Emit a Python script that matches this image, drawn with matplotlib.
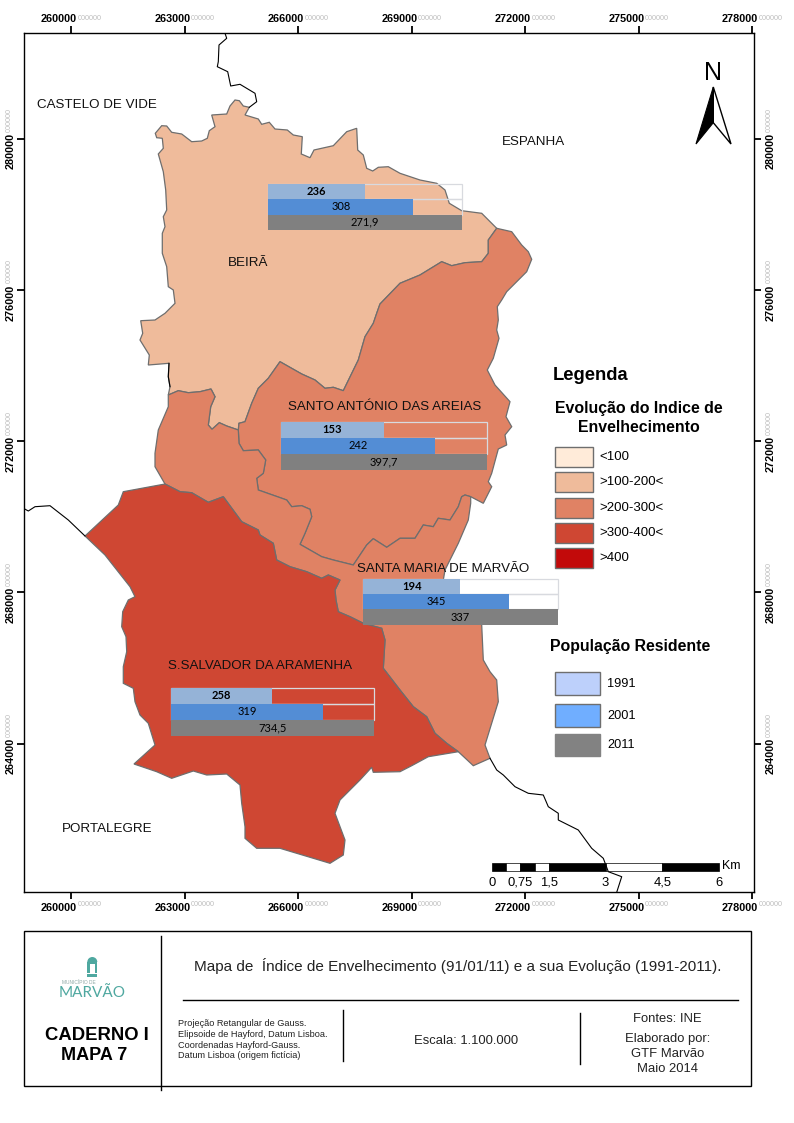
import matplotlib
matplotlib.use('Agg')
import matplotlib.pyplot as plt
import matplotlib.transforms as mtrans
from matplotlib.patches import Polygon, Rectangle, Wedge

plt.rcParams['font.family'] = ['Liberation Sans', 'DejaVu Sans']

# tick values of the grid (metres, Hayford-Gauss)
x_ticks = [260000, 263000, 266000, 269000, 272000, 275000, 278000]
y_ticks = [264000, 268000, 272000, 276000, 280000]

# parish outlines as (px, py) and split at shared edges
beira_north = [(230, 106), (235, 100), (239.3, 100.7), (243.3, 106), (249.3, 107.3), (245, 115),
               (258.3, 119), (261.7, 124.3), (269.3, 122.3), (275, 129), (287.3, 130), (293.3, 135),
               (302.3, 136.7), (301.3, 154), (310, 157.7), (314, 150), (333.3, 145.7), (346.7, 131.7),
               (356.7, 128.3), (357.7, 150), (363.3, 155), (366.7, 168.3), (372.7, 171), (378.3, 167.3),
               (388.3, 166.7), (400, 173.3), (420, 180), (436.7, 183.3), (445, 190), (449.3, 203.3),
               (461.7, 210.7), (481.7, 213.3), (496.7, 228.3)]
beira_sa = [(496.7, 228.3), (488.3, 240), (488.3, 253.3), (481.7, 261.7), (465, 262.7), (451.7, 265.7),
            (441.7, 261.7), (420, 275), (400, 283.3), (380, 304), (376.7, 313.3), (373.3, 323.3),
            (365, 336.7), (358.3, 360), (343.3, 390.7), (333.3, 387.3), (325, 388.3), (315, 380),
            (301.7, 374), (280, 361.7), (268.3, 378.3), (258.3, 388.3), (251.7, 403.3), (245, 421.7),
            (239, 423.3), (238.3, 430)]
beira_sm = [(238.3, 430), (226.7, 426), (219.3, 422.7), (212, 429.3), (208.3, 425), (210.7, 406.7),
            (215, 396.7), (211, 389), (200, 391.7), (188.3, 392.7), (178.3, 390.7), (168.3, 395)]
beira_west = [(168.3, 395), (170, 386.7), (168.3, 376.7), (169, 363.3), (148.3, 365), (149.3, 355),
              (140, 340), (142.7, 333.3), (140.7, 320.7), (155, 320), (165, 313.3), (175, 303.3),
              (173.3, 290), (168.3, 286.7), (166.7, 266.7), (162.3, 253.3), (162.3, 233.3), (165, 226.7),
              (163.3, 216.7), (166.7, 210), (165.7, 190), (163.3, 171.7), (158.3, 154), (163.3, 148.3),
              (162.3, 138.3), (156.7, 137.7), (155.3, 133.3), (161.7, 125.7), (166.7, 126), (171.7, 132.3),
              (181.7, 134), (191.7, 141.7), (201.7, 141), (207.3, 138.3), (209.3, 130.7), (215, 126.7),
              (211.7, 115), (226.7, 114), (230, 106)]
sa_east = [(496.7, 228.3), (511.7, 231.7), (521.7, 245), (528.3, 251.7), (531.7, 259.3), (526.7, 271.7),
           (506.7, 291.7), (501.7, 300), (497.3, 306.7), (498.3, 320), (496.7, 330), (499, 338.3),
           (493.3, 358.3), (487.3, 370), (495, 385), (510, 401.7), (506, 416.7), (511.7, 426.7),
           (505, 435), (506.7, 445), (498.3, 449), (491.7, 473.3), (488.3, 481.7), (491.7, 486.7),
           (483.3, 503.3), (470.7, 496.7)]
sa_sm = [(470.7, 496.7), (465, 495), (461.7, 496.7), (458.3, 506.7), (450, 520), (438.3, 518.3),
         (433.3, 526.7), (423.3, 525), (415, 538.3), (400, 538.3), (386.7, 547.3), (373.3, 538.7),
         (366.7, 545), (353.3, 565), (333.3, 560), (321.7, 556.7), (300, 544.3), (305, 533.3),
         (311.7, 516.7), (310, 509.3), (301.7, 505.7), (291.7, 506.7), (286.7, 500), (258.3, 490),
         (256.7, 478.3), (263.3, 473.3), (265.7, 460), (258.3, 450), (243.3, 450.7), (239, 443.3),
         (238.3, 430)]
sm_east = [(470.7, 496.7), (470.7, 503.3), (468.3, 520), (458.3, 543.3), (445, 570), (443.3, 580),
           (481.7, 625), (483.3, 660), (490, 671.7), (496.7, 680), (498.3, 701.7), (485, 745),
           (490, 758.3), (473.3, 765.7), (458.3, 751.7)]
sal_sm = [(458.3, 751.7), (446.7, 743.3), (435, 733.3), (426.7, 716.7), (413.3, 706.7), (400, 690),
          (383.3, 668.3), (385, 640), (381.7, 628.3), (363.3, 623.3), (350, 616.7), (338.3, 611.7),
          (336, 600), (335, 590), (340, 580), (328.3, 575), (321.7, 578.3), (306.7, 571.7), (290, 566.7),
          (276.7, 560), (273.3, 543.3), (260, 535), (258.3, 530), (241.7, 521.7), (223.3, 496.7),
          (208.3, 502.3), (191.7, 492.7), (180, 491.7), (165, 484)]
sm_west = [(165, 484), (155, 466.7), (155, 453.3), (158.3, 430), (168.3, 406.7), (168.3, 395)]
sal_outer = [(165, 484), (123.3, 491.7), (118.3, 505), (85, 536), (105, 555), (130, 586.7), (135, 596.7),
             (128.3, 600), (122.7, 611.7), (121.7, 626.7), (126, 636.7), (126.7, 651.7), (123.3, 666.7),
             (123.3, 683.3), (133.3, 688.3), (135, 701.7), (140, 715), (148.3, 723.3), (155, 745),
             (134, 764), (156.7, 771.7), (171.7, 778.3), (193.3, 771), (206.7, 775), (226.7, 774),
             (240, 785), (241.7, 803.3), (245, 826.7), (245, 838.3), (256.7, 848.3), (280, 848.3),
             (296.7, 853.3), (330, 863.3), (343.3, 855), (345, 840), (335, 813.3), (340, 800),
             (360, 780), (371.7, 767.3), (373.3, 772.3), (400, 771.7), (411.7, 765.7), (428.3, 756.7),
             (458.3, 751.7)]

# national border pieces
border_north = [(225, 33.3), (226.7, 38.3), (219, 45), (218.3, 61.7), (217.3, 66.7), (227.7, 71.7),
                (230.7, 86), (240, 84.3), (255, 93.3), (256.7, 101.7), (249.3, 107.3)]
border_west = [(23.5, 508.3), (28.3, 511), (35, 506.7), (50, 505.7), (68.3, 520), (85, 536)]
border_se = [(490, 758.3), (496.7, 770), (503.3, 775), (515, 786.7), (528.3, 793.3), (543.3, 795),
             (548.3, 806.7), (558.3, 813.3), (558.3, 820), (578.3, 830), (591.7, 848.3), (603.3, 858.3),
             (608.3, 871.7), (621.7, 876.7), (616.7, 892.3)]
border_mid = [(169, 363.3), (168.3, 376.7), (170, 386.7)]

# population bars per parish: share of the chart width and printed value
parishes = ['Beirã', 'Santo António', 'Santa Maria', 'São Salvador']
pop_shares = [[0.5, 0.75, 1.0], [0.5, 0.75, 1.0], [0.5, 0.75, 1.0], [0.5, 0.75, 1.0]]
pop_labels = [['236', '308', '271,9'], ['153', '242', '397,7'], ['194', '345', '337'], ['258', '319', '734,5']]
chart_boxes = [(268, 184, 194, 46), (281, 421.7, 206, 48), (363, 579, 195, 45.7), (171, 687.7, 203, 48)]

scale_breaks_km = [0, 0.375, 0.75, 1.125, 1.5, 3, 4.5, 6]
scale_labels = ['0', '0,75', '1,5', '3', '4,5', '6']
scale_label_km = [0, 0.75, 1.5, 3, 4.5, 6]

idx_labels = ['<100', '>100-200<', '>200-300<', '>300-400<', '>400']
idx_colors = ['#FFEBD9', '#EFBB9B', '#E08264', '#CF4733', '#C20A0A']
pop_years = ['1991', '2001', '2011']
pop_legend_colors = ['#BDD0FB', '#70AEFF', '#828282']
bar_colors = ['#95B3D7', '#538DD5', '#808080']


def map_x(px):
    return 260000 + (px - 71.0) * 3000 / 113.5


def map_y(py):
    return 280000 - (py - 138.7) * 4000 / 151.25


def to_map(points):
    return [(map_x(p[0]), map_y(p[1])) for p in points]


def shift_px(dx, dy):
    return mtrans.ScaledTranslation(dx / 100, dy / 100, fig.dpi_scale_trans)


fig = plt.figure(figsize=(7.94, 11.23), dpi=100)
W, H = 794.0, 1123.0
L, R, T, B = 23.5, 754.3, 33.3, 892.3
ax = fig.add_axes([L / W, 1 - B / H, (R - L) / W, (B - T) / H])
ax.set_xlim(map_x(L), map_x(R))
ax.set_ylim(map_y(B), map_y(T))

edge = '#6E6E6E'
beira = beira_north + beira_sa[1:] + beira_sm[1:] + beira_west[1:]
sa = beira_sa + sa_sm[::-1][1:] + sa_east[::-1][1:]
sm = beira_sm + sm_west[::-1][1:] + sal_sm[::-1][1:] + sm_east[::-1][1:] + sa_sm[1:]
sal = sal_sm + sal_outer[1:]
for outline, col in [(beira, idx_colors[1]), (sa, idx_colors[2]), (sm, idx_colors[2]), (sal, idx_colors[3])]:
    ax.add_patch(Polygon(to_map(outline), closed=True, facecolor=col, edgecolor=edge, linewidth=0.9, zorder=2))

for line in [border_north, border_west, border_se, border_mid]:
    pts = to_map(line)
    ax.plot([p[0] for p in pts], [p[1] for p in pts], color='black', linewidth=0.8, zorder=5)

# ticks and their labels
ax.set_xticks(x_ticks)
ax.set_yticks(y_ticks)
ax.set_xticklabels([str(v) for v in x_ticks], fontsize=7.8, fontweight='bold')
ax.set_yticklabels([str(v) for v in y_ticks], fontsize=7.8, fontweight='bold', rotation=90)
ax.tick_params(length=5, width=1.3, top=True, right=True, labeltop=True, labelright=True, pad=2.5)
for spine in ax.spines.values():
    spine.set_linewidth(1.0)
for tick in ax.xaxis.get_major_ticks():
    tick.label1.set_ha('right')
    tick.label2.set_ha('right')
    tick.label1.set_transform(tick.label1.get_transform() + shift_px(6, 0))
    tick.label2.set_transform(tick.label2.get_transform() + shift_px(6, -1))
for tick in ax.yaxis.get_major_ticks():
    tick.label1.set_va('top')
    tick.label2.set_va('top')
    tick.label1.set_rotation(90)
    tick.label2.set_rotation(90)
    tick.label1.set_transform(tick.label1.get_transform() + shift_px(2.5, 5.5))
    tick.label2.set_transform(tick.label2.get_transform() + shift_px(1, 5.5))

# faded trailing digits after every grid label
for v in x_ticks:
    for frac, dy in [(1, 14.5), (0, -12)]:
        ax.annotate('000000', xy=(v, frac), xycoords=('data', 'axes fraction'), xytext=(4.7, dy * 0.72),
                    textcoords='offset points', fontsize=5.2, color='#BDBDBD', ha='left', va='center')
for v in y_ticks:
    for frac, dx in [(0, -14), (1, 15)]:
        ax.annotate('000000', xy=(frac, v), xycoords=('axes fraction', 'data'), xytext=(dx * 0.72, 4.7),
                    textcoords='offset points', fontsize=5.2, color='#BDBDBD', ha='center', va='bottom', rotation=90)

# population charts
for box, shares, labels in zip(chart_boxes, pop_shares, pop_labels):
    x0, y0, w, h = box
    inset = ax.inset_axes([map_x(x0), map_y(y0 + h), map_x(x0 + w) - map_x(x0), map_y(y0) - map_y(y0 + h)],
                          transform=ax.transData, zorder=4)
    inset.set_xlim(0, 1)
    inset.set_ylim(2.5, -0.5)
    inset.axis('off')
    frame = inset.barh([0, 1], [1, 1], height=1, fill=False, edgecolor='#D8DADF', linewidth=0.9, clip_on=False)
    bars = inset.barh(range(3), shares, height=1, color=bar_colors)
    texts = inset.bar_label(bars, labels=labels, label_type='center', fontsize=8, family='Lato', color='black')
    texts[0].set_fontweight('bold')

# scale bar, drawn in map units
sb_x0 = map_x(492)
sb_y = map_y(867)
sb_h = map_y(863) - map_y(871)
for i in range(len(scale_breaks_km) - 1):
    ax.barh(sb_y, (scale_breaks_km[i + 1] - scale_breaks_km[i]) * 1000, left=sb_x0 + scale_breaks_km[i] * 1000,
            height=sb_h, color='black' if i % 2 == 0 else 'white', edgecolor='black', linewidth=0.5, zorder=3)
for km, lab in zip(scale_label_km, scale_labels):
    ax.text(sb_x0 + km * 1000, map_y(882.5), lab, fontsize=9.4, ha='center', va='center', zorder=6)
ax.text(map_x(722), map_y(866), 'Km', fontsize=9, ha='left', va='center', zorder=6)

# everything else sits on a pixel-sized overlay
ov = fig.add_axes([0, 0, 1, 1], facecolor='none')
ov.set_xlim(0, W)
ov.set_ylim(H, 0)
ov.axis('off')

map_texts = [('CASTELO DE VIDE', 96.5, 104.5), ('ESPANHA', 533, 142), ('BEIRÃ', 248, 263.5),
             ('SANTO ANTÓNIO DAS AREIAS', 385, 407), ('SANTA MARIA DE MARVÃO', 443.5, 569),
             ('S.SALVADOR DA ARAMENHA', 259.5, 666), ('PORTALEGRE', 107, 829)]
for txt, x, y in map_texts:
    ov.text(x, y, txt, fontsize=9.6, ha='center', va='center', color='#111111')

# north arrow
ov.text(713.5, 73, 'N', fontsize=18, ha='center', va='center')
ov.add_patch(Polygon([(713.3, 87), (696, 144), (713.3, 122.7)], closed=True, facecolor='black', edgecolor='black', linewidth=0.8))
ov.add_patch(Polygon([(713.3, 87), (731, 144), (713.3, 122.7)], closed=True, facecolor='white', edgecolor='black', linewidth=1.0))

# legend
ov.text(553, 376, 'Legenda', fontsize=13.2, fontweight='bold', ha='left', va='center')
ov.text(639, 409, 'Evolução do Indice de', fontsize=11.4, fontweight='bold', ha='center', va='center')
ov.text(639, 427, 'Envelhecimento', fontsize=11.4, fontweight='bold', ha='center', va='center')
idx_tops = [447.3, 472.3, 498.3, 523.3, 548.3]
for top, col, lab in zip(idx_tops, idx_colors, idx_labels):
    ov.add_patch(Rectangle((555.3, top), 38, 19.3, facecolor=col, edgecolor=edge, linewidth=1.0))
    ov.text(599, top + 10, lab, fontsize=9.5, ha='left', va='center')

ov.text(630.5, 646.5, 'População Residente', fontsize=11.4, fontweight='bold', ha='center', va='center')
pop_tops = [672.3, 704.3, 734]
for top, col, yr in zip(pop_tops, pop_legend_colors, pop_years):
    ov.add_patch(Rectangle((555.3, top), 44.4, 22.3, facecolor=col, edgecolor=edge if yr != '2011' else col, linewidth=1.0))
    ov.text(607, top + 11.5, yr, fontsize=9.2, ha='left', va='center')

# title block
ov.add_patch(Rectangle((24.3, 931.3), 727, 154.7, facecolor='none', edgecolor='black', linewidth=1.0))
for x, y1, y2 in [(160.5, 936, 1090), (342.5, 1010, 1061), (580.3, 1013, 1064)]:
    ov.plot([x, x], [y1, y2], color='black', linewidth=1.0)
ov.plot([183, 738], [1000.3, 1000.3], color='black', linewidth=1.0)

ov.text(458, 966.5, 'Mapa de  Índice de Envelhecimento (91/01/11) e a sua Evolução (1991-2011).', fontsize=11, ha='center', va='center', color='#222222')
proj_lines = ['Projeção Retangular de Gauss.', 'Elipsoide de Hayford, Datum Lisboa.',
              'Coordenadas Hayford-Gauss.', 'Datum Lisboa (origem fictícia)']
for y, line in zip([1023, 1034.5, 1045, 1055.5], proj_lines):
    ov.text(178, y, line, fontsize=6.6, ha='left', va='center', color='#222222')
ov.text(97, 1035, 'CADERNO I', fontsize=13.3, fontweight='bold', ha='center', va='center')
ov.text(94.5, 1055.5, 'MAPA 7', fontsize=13, fontweight='bold', ha='center', va='center')
ov.text(466, 1041.5, 'Escala: 1.100.000', fontsize=9.4, ha='center', va='center', color='#222222')
for y, line in zip([1018.5, 1039, 1054, 1069.5], ['Fontes: INE', 'Elaborado por:', 'GTF Marvão', 'Maio 2014']):
    ov.text(667.5, y, line, fontsize=9.4, ha='center', va='center', color='#222222')

# logo
teal = '#4FA8A0'
ov.add_patch(Rectangle((87.3, 962), 10, 10.5, facecolor=teal, edgecolor='none'))
ov.add_patch(Wedge((92.3, 962), 5, 180, 360, facecolor=teal, edgecolor='none'))
ov.add_patch(Rectangle((87.3, 973.7), 10, 3, facecolor=teal, edgecolor='none'))
ov.add_patch(Rectangle((90, 964), 5, 8.5, facecolor='white', edgecolor='none'))
ov.text(79, 982, 'MUNICÍPIO DE', fontsize=3.5, color='#8FA9A6', ha='center', va='center')
ov.text(92, 993, 'MARVÃO', fontsize=11, family='Lato', color=teal, ha='center', va='center')

fig.savefig('out.png', dpi=100)
